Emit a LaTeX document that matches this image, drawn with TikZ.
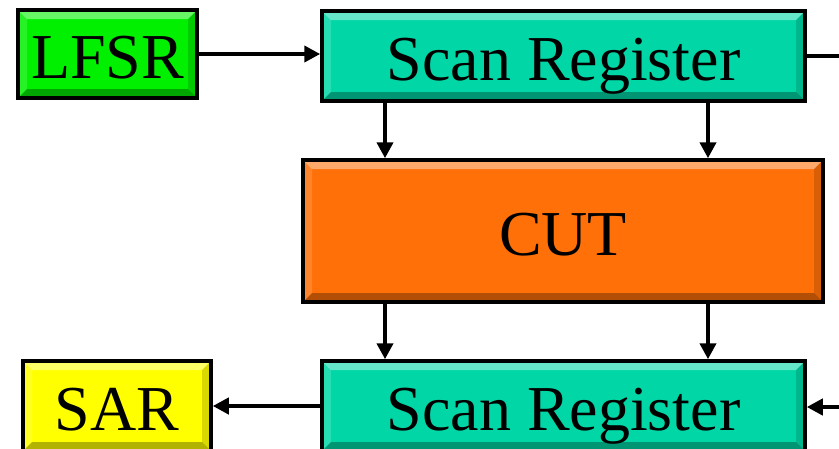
\documentclass[tikz,border=0pt]{standalone}
\usepackage{fontspec}
\setmainfont{Liberation Serif}
\usetikzlibrary{arrows.meta}

\definecolor{lfsrgreen}{RGB}{0,240,0}
\definecolor{regteal}{RGB}{0,214,166}
\definecolor{cutorange}{RGB}{255,112,8}
\definecolor{saryellow}{RGB}{255,255,0}

\tikzset{
  % raised box with a bevelled rim
  block/.style={draw=black, line width=3.5pt, inner sep=0pt,
    font=\fontsize{64}{70}\selectfont, text height=48pt, text depth=0pt,
    path picture={
      \coordinate (nw) at (path picture bounding box.north west);
      \coordinate (ne) at (path picture bounding box.north east);
      \coordinate (sw) at (path picture bounding box.south west);
      \coordinate (se) at (path picture bounding box.south east);
      \fill[white,opacity=.4] (nw) -- (ne) -- ([shift={(-9pt,-9pt)}]ne) -- ([shift={(9pt,-9pt)}]nw) -- cycle;
      \fill[white,opacity=.15] (nw) -- ([shift={(9pt,-9pt)}]nw) -- ([shift={(9pt,9pt)}]sw) -- (sw) -- cycle;
      \fill[black,opacity=.15] (ne) -- (se) -- ([shift={(-9pt,9pt)}]se) -- ([shift={(-9pt,-9pt)}]ne) -- cycle;
      \fill[black,opacity=.3] (sw) -- (se) -- ([shift={(-9pt,9pt)}]se) -- ([shift={(9pt,9pt)}]sw) -- cycle;
    }},
  link/.style={line width=4pt, -{Triangle[length=16pt,width=16pt]}},
  wire/.style={line width=4pt},
}

\begin{document}
\begin{tikzpicture}[x=1pt, y=-1pt]
  \useasboundingbox (0,0) rectangle (839,448);
  % top row
  \node[block, fill=lfsrgreen, minimum width=179pt, minimum height=88pt] (lfsr) at (107.5,54) {LFSR};
  \node[block, fill=regteal, minimum width=483pt, minimum height=90pt] (reg1) at (563.5,56) {Scan Register};
  % circuit under test
  \node[block, fill=cutorange, minimum width=520pt, minimum height=142pt] (cut) at (563,231) {CUT};
  % bottom row
  \node[block, fill=regteal, minimum width=483pt, minimum height=90pt] (reg2) at (563.5,406) {Scan Register};
  \node[block, fill=saryellow, minimum width=188pt, minimum height=90pt] (sar) at (117,406) {SAR};
  % tap positions and page-edge ends
  \coordinate (tapL) at (385,0);
  \coordinate (tapR) at (708,0);
  \coordinate (outR) at (839,0);
  \coordinate (inR) at (839,407);
  % connections
  \draw[link] (lfsr.east) -- (lfsr.east -| reg1.west);
  \draw[wire] (reg1.east) -- (reg1.east -| outR);
  \draw[link] (reg1.south -| tapL) -- (cut.north -| tapL);
  \draw[link] (reg1.south -| tapR) -- (cut.north -| tapR);
  \draw[link] (cut.south -| tapL) -- (reg2.north -| tapL);
  \draw[link] (cut.south -| tapR) -- (reg2.north -| tapR);
  \draw[link] (inR) -- (reg2.east |- inR);
  \draw[link] (reg2) -- (sar);
\end{tikzpicture}
\end{document}
